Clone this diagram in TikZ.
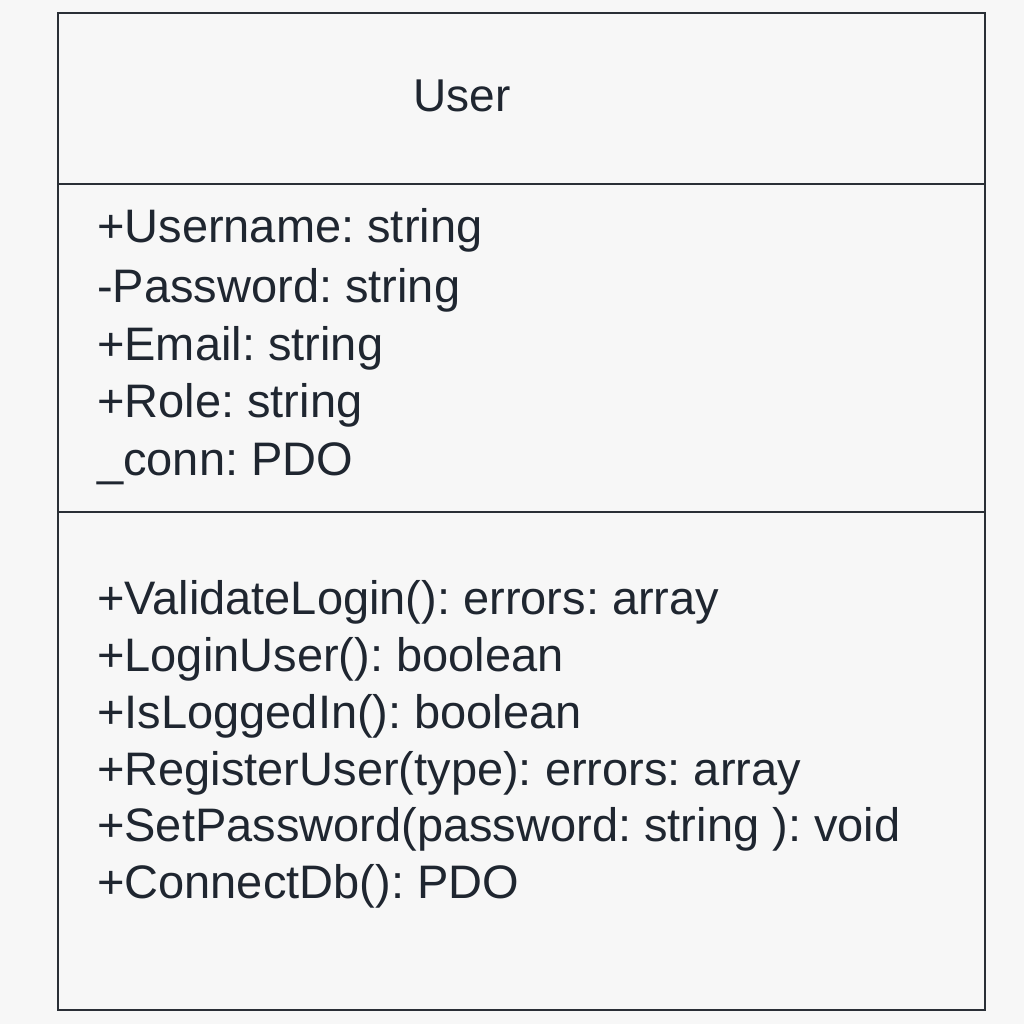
\documentclass[tikz,border=0pt]{standalone}
\usepackage{fontspec}
\setmainfont{Liberation Sans}
\frenchspacing
\definecolor{bgc}{HTML}{F7F7F7}
\definecolor{inkc}{HTML}{1F2630}
\definecolor{linec}{HTML}{2A2F36}
\begin{document}
\begin{tikzpicture}[x=1pt,y=-1pt,
  member/.style={anchor=base west,inner sep=0pt,text=inkc,font=\fontsize{47}{52}\selectfont},
  title/.style={anchor=base,inner sep=0pt,text=inkc,font=\fontsize{46}{52}\selectfont},
  frame/.style={draw=linec,line width=2.8pt}]
\fill[bgc] (0,0) rectangle (1024,1024);
\useasboundingbox (0,0) rectangle (1024,1024);
\coordinate (tl) at (58,13);
\coordinate (br) at (985,1010);
\draw[frame] (tl) rectangle (br);
\coordinate (d1l) at (58,184);
\coordinate (d1r) at (985,184);
\coordinate (d2l) at (58,512);
\coordinate (d2r) at (985,512);
\draw[frame] (d1l) -- (d1r);
\draw[frame] (d2l) -- (d2r);
\node[title] (name) at (462,112) {User};
\node[member] (a1) at (97,243) {+Username: string};
\node[member] (a2) at (97,302) {-Password: string};
\node[member] (a3) at (97,360) {+Email: string};
\node[member] (a4) at (97,417) {+Role: string};
\node[member] (a5) at (97,475) {\_conn: PDO};
\node[member] (m1) at (97,614) {+ValidateLogin(): errors: array};
\node[member] (m2) at (97,671) {+LoginUser(): boolean};
\node[member] (m3) at (97,728) {+IsLoggedIn(): boolean};
\node[member] (m4) at (97,785) {+RegisterUser(type): errors: array};
\node[member] (m5) at (97,841) {+SetPassword(password: string ): void};
\node[member] (m6) at (97,898) {+ConnectDb(): PDO};
\end{tikzpicture}
\end{document}
